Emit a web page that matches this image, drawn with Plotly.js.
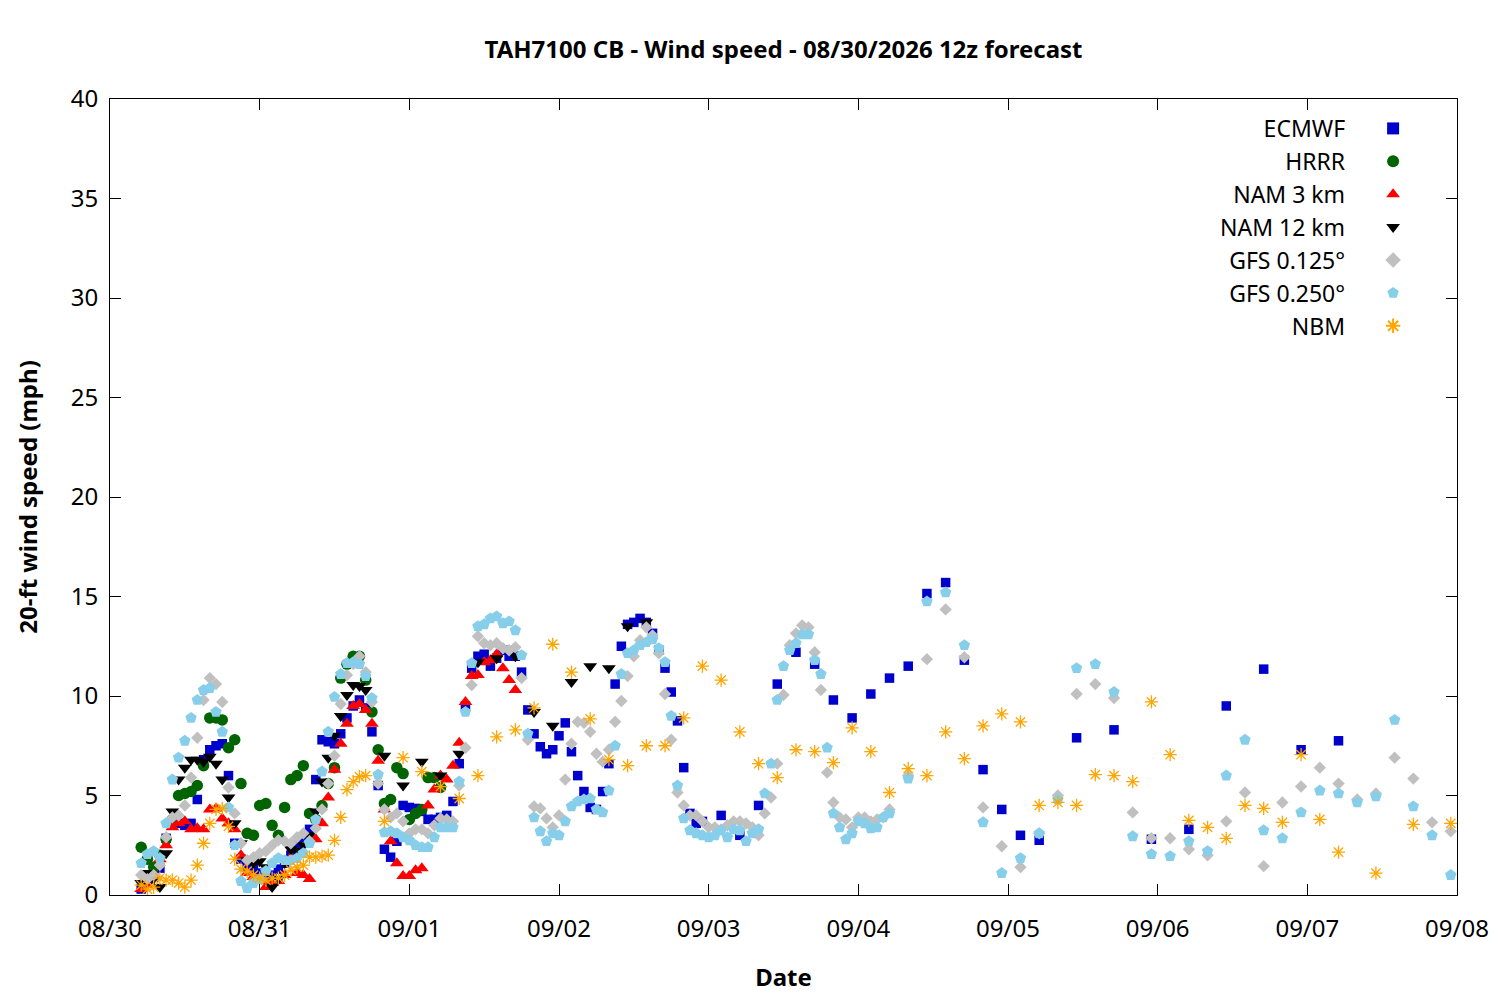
<!DOCTYPE html>
<html>
<head>
<meta charset="utf-8">
<title>TAH7100 CB - Wind speed</title>
<script src="https://cdn.plot.ly/plotly-3.0.1.min.js"></script>
<style>
  html, body { margin: 0; padding: 0; background: #ffffff; }
  #chart { width: 1500px; height: 1000px; }
</style>
</head>
<body>
<div id="chart"></div>
<script>
// hours after 08/30 00:00 local; each model has hourly, then 3-hourly / 6-hourly steps
const ecmwfHourly = [
  0.3, 0.6, 0.9, 1.35, 2.85, 3.6, 3.6, 3.5, 3.6, 4.8,
  6.8, 7.3, 7.5, 7.6, 6.0, 2.6, 1.8, 1.4, 1.35, 1.1,
  0.9, 1.0, 1.3, 1.6, 2.0, 2.5, 2.9, 3.3, 5.8, 7.8,
  7.7, 7.6, 8.1, 8.9, 9.5, 9.8, 9.4, 8.2, 5.5, 2.3,
  1.9, 2.7, 4.5, 4.4, 4.35, 4.2, 3.8, 3.8, 3.9, 4.0,
  4.7, 6.6, 9.5, 11.4, 12.0, 12.1, 11.5, 11.9, 12.3, 12.0,
  12.0, 11.2, 9.3, 8.1, 7.45, 7.1, 7.3, 8.0, 8.65, 7.2,
  6.0, 5.2, 4.4, 4.3, 5.2, 6.6, 10.6, 12.5, 13.6, 13.7,
  13.9, 13.7, 13.15, 12.3, 11.4, 10.2, 8.75, 6.4, 4.1, 3.6, 3.7,
];
const ecmwf3h = [4.0, 3.0, 4.5, 10.6, 12.2, 11.6, 9.8, 8.9, 10.1, 10.9, 11.5, 15.15, 15.7, 11.8, 6.3, 4.3, 3.0, 2.75];
const ecmwf6h = [7.9, 8.3, 2.8, 3.3, 9.5, 11.35, 7.3, 7.75];

const hrrrHourly = [
  2.4, 1.8, 1.4, 2.0, 2.8, 3.8, 5.0, 5.1, 5.2, 5.5,
  6.5, 8.9, 8.9, 8.8, 7.4, 7.8, 5.6, 3.1, 3.0, 4.5,
  4.6, 3.5, 3.0, 4.4, 5.8, 6.0, 6.5, 4.1, 3.8, 4.5,
  5.6, 6.4, 10.9, 11.6, 12.0, 12.0, 10.8, 9.2, 7.3, 4.6,
  4.8, 6.4, 6.1, 3.8, 4.1, 4.3, 5.9, 5.9, 5.4,
];

const nam3Hourly = [
  0.3, 0.5, 1.0, 1.8, 2.5, 3.4, 3.6, 3.7, 3.3, 3.35, 3.3,
  4.3, 4.35, 3.85, 3.6, 3.3, 2.0, 1.1, 0.9, 0.7, 0.4,
  0.6, 0.7, 1.0, 1.9, 1.1, 1.0, 0.8, 2.8, 3.6, 4.9,
  6.3, 7.6, 8.6, 9.5, 9.6, 9.3, 8.6, 6.75, 4.3, 2.7,
  1.6, 0.95, 0.95, 1.25, 1.35, 4.5, 5.3, 6.0, 5.8, 6.5,
  7.65, 9.7, 11.0, 11.05, 11.7, 11.8, 12.1, 11.4, 10.8, 10.3,
];

const nam12Hourly = [
  0.6, 1.1, 0.8, 0.4, 2.1, 4.2, 5.8, 6.4, 6.8, 6.8,
  6.7, 6.95, 6.6, 5.8, 4.9, 3.6, 2.6, 1.75, 1.6, 1.7,
  1.4, 0.4, 0.8, 1.6, 2.3, 2.2, 2.5, 3.0, 4.2, 5.7,
  6.9, 8.0, 9.0, 10.05, 10.55, 10.5, 10.3,
];
const nam12_3h = [7.0, 5.5, 6.7, 6.0, 7.1, 11.7, 11.9, 12.0, 9.2, 8.5, 10.7, 11.5, 11.4, 13.5, 13.7];

const gfs125Hourly = [
  1.0, 0.8, 1.0, 1.5, 2.9, 3.9, 4.0, 4.5, 5.9, 7.9,
  9.8, 10.9, 10.6, 9.7, 5.4, 4.1, 2.6, 1.75, 1.9, 2.1,
  2.2, 2.5, 2.75, 2.7, 2.6, 2.9, 3.1, 2.7, 3.35, 4.3,
  5.6, 7.0, 9.6, 11.05, 11.6, 12.0, 11.2, 9.7, 5.6, 4.3,
  3.9, 4.1, 3.7, 3.1, 3.3, 3.3, 3.1, 3.5, 3.85, 3.8,
  3.7, 5.5, 7.4, 10.55, 13.0, 12.65, 12.55, 12.65, 12.4, 12.3,
  12.45, 10.9, 7.8, 4.45, 4.35, 3.85, 3.4, 4.0, 5.8, 7.6,
  8.7, 8.65, 8.2, 7.1, 6.7, 7.3, 8.7, 9.75, 11.0, 12.0,
  12.8, 13.45, 13.05, 12.15, 10.1, 7.8, 5.15, 4.5, 4.0, 4.0,
  3.7, 3.4, 3.4, 3.3, 3.5, 3.7, 3.7, 3.6, 3.4, 3.0,
  4.1, 4.9, 6.6, 10.05, 12.55, 13.15, 13.55, 13.45, 12.2, 10.3,
  6.15, 4.65, 3.9, 3.8, 3.4, 3.9, 3.9, 3.7, 3.8, 3.9, 4.3,
];
const gfs125_3h = [
  6.0, 11.85, 14.35, 11.95, 4.4, 2.45, 1.4, 3.1, 5.0, 10.1,
  10.6, 9.9, 4.15, 2.85, 2.85, 2.3, 2.0, 3.7, 5.15, 1.45,
  4.65, 5.45, 6.4, 5.6, 4.8, 5.1, 6.9, 5.85, 3.65, 3.2,
];

const gfs250Hourly = [
  1.6, 2.05, 2.2, 1.85, 3.6, 5.8, 6.9, 7.75, 8.9, 9.8,
  10.3, 10.4, 9.2, 8.2, 4.4, 2.5, 0.7, 0.35, 0.6, 0.8,
  1.2, 1.6, 1.85, 1.75, 1.75, 1.85, 2.1, 2.6, 3.8, 6.2,
  8.2, 9.95, 11.1, 11.65, 11.7, 11.6, 11.0, 9.9, 6.05, 3.15,
  3.2, 3.1, 2.9, 2.75, 2.5, 2.4, 2.4, 2.9, 3.4, 3.4,
  3.4, 5.7, 9.2, 11.65, 13.5, 13.6, 13.9, 14.0, 13.65, 13.75,
  13.3, 12.05, 8.1, 3.9, 3.2, 2.7, 3.1, 3.0, 3.7, 4.45,
  4.7, 4.8, 4.85, 4.3, 4.15, 5.25, 7.5, 11.1, 12.15, 12.3,
  12.55, 12.7, 12.85, 12.4, 11.7, 9.0, 5.5, 3.85, 3.25, 3.1,
  3.0, 2.9, 3.0, 3.25, 2.9, 3.3, 3.25, 2.7, 3.1, 3.3,
  5.1, 6.6, 9.8, 11.5, 12.3, 12.65, 13.1, 13.1, 11.8, 11.1,
  7.4, 4.1, 3.4, 2.8, 3.1, 3.7, 3.6, 3.35, 3.4, 3.9, 4.1,
];
const gfs250_3h = [
  5.85, 14.75, 15.2, 12.55, 3.65, 1.1, 1.85, 3.1, 4.8, 11.4,
  11.6, 10.2, 2.95, 2.05, 1.95, 2.7, 2.2, 6.0, 7.8, 3.25,
  2.85, 4.15, 5.25, 5.1, 4.65, 4.95, 8.8, 4.45, 3.0, 1.0,
];

const nbmHourly = [
  0.5, 0.3, 0.4, 0.85, 0.75, 0.75, 0.6, 0.4, 0.75, 1.5,
  2.6, 3.6, 4.3, 4.35, 3.45, 1.8, 1.3, 1.2, 1.0, 0.85,
  0.75, 0.85, 0.85, 1.0, 1.25, 1.4, 1.5, 1.9, 1.9, 1.95,
  2.0, 2.75, 3.9, 5.3, 5.7, 5.95, 6.0,
];
const nbm3h = [
  3.7, 6.9, 6.2, 5.45, 4.85, 6.0, 7.95, 8.3, 9.4, 12.6,
  11.2, 8.85, 6.8, 6.5, 7.5, 7.5, 8.9, 11.5, 10.8, 8.2,
  6.6, 5.9, 7.3, 7.2, 6.65, 8.4, 7.2, 5.15, 6.35, 6.0,
  8.2, 6.85, 8.5, 9.1, 8.7, 4.5, 4.65, 4.5, 6.05, 6.0,
  5.7, 9.7, 7.05, 3.75, 3.4, 2.85, 4.5, 4.35, 3.65, 7.05,
  3.8, 2.15,
];
const nbm6h = [1.1, 3.55, 3.6];

const seriesNames = ["ECMWF", "HRRR", "NAM 3 km", "NAM 12 km", "GFS 0.125°", "GFS 0.250°", "NBM"];

// forecast segments: first valid hour and step in hours
const series = [
  { name: seriesNames[0], parts: [[5, 1, ecmwfHourly], [98, 3, ecmwf3h], [155, 6, ecmwf6h]],
    marker: { symbol: "square", color: "#0000cc", size: 9.5 } },
  { name: seriesNames[1], parts: [[5, 1, hrrrHourly]],
    marker: { symbol: "circle", color: "#006400", size: 11.5 } },
  { name: seriesNames[2], parts: [[5, 1, nam3Hourly]],
    marker: { symbol: "triangle-up", color: "#ff0000", size: 12 } },
  { name: seriesNames[3], parts: [[5, 1, nam12Hourly], [44, 3, nam12_3h]],
    marker: { symbol: "triangle-down", color: "#000000", size: 12 } },
  { name: seriesNames[4], parts: [[5, 1, gfs125Hourly], [128, 3, gfs125_3h]],
    marker: { symbol: "diamond", color: "#c0c0c0", size: 9.5 } },
  { name: seriesNames[5], parts: [[5, 1, gfs250Hourly], [128, 3, gfs250_3h]],
    marker: { symbol: "pentagon", color: "#87ceeb", size: 12 } },
  { name: seriesNames[6], parts: [[5, 1, nbmHourly], [44, 3, nbm3h], [203, 6, nbm6h]],
    marker: { symbol: "asterisk-open", color: "#ffa500", size: 11, line: { color: "#ffa500", width: 1.3 } } },
];

const FONT = "Noto Sans, Open Sans, DejaVu Sans, sans-serif";

function hourToDate(hour) {
  const d = new Date(Date.UTC(2026, 7, 30, hour));
  return d.toISOString().slice(0, 16).replace("T", " ");
}

function buildTrace(entry, index) {
  const x = [];
  const y = [];
  entry.parts.forEach(([start, step, values]) => {
    values.forEach((value, i) => {
      x.push(hourToDate(start + i * step));
      y.push(value);
    });
  });
  return {
    type: "scatter",
    mode: "markers",
    name: entry.name,
    legendgroup: "g" + index,
    x,
    y,
    marker: Object.assign({ line: { width: 0 } }, entry.marker),
    cliponaxis: true,
  };
}

const traces = series.map(buildTrace);

const axisCommon = {
  showline: true,
  linecolor: "#000000",
  linewidth: 1,
  mirror: "ticks",
  ticks: "inside",
  ticklen: 11,
  tickwidth: 1,
  tickcolor: "#000000",
  showgrid: false,
  zeroline: false,
  tickfont: { family: FONT, size: 24, color: "#000000" },
};

const layout = {
  width: 1500,
  height: 1000,
  margin: { l: 110, r: 43, t: 99, b: 105 },
  paper_bgcolor: "#ffffff",
  plot_bgcolor: "#ffffff",
  font: { family: FONT, color: "#000000" },
  title: {
    text: "<b>TAH7100 CB - Wind speed - 08/30/2026 12z forecast</b>",
    font: { family: FONT, size: 24, color: "#000000" },
    xref: "paper",
    x: 0.5,
    y: 0.95,
    yanchor: "middle",
  },
  xaxis: Object.assign({}, axisCommon, {
    type: "date",
    range: [hourToDate(0), hourToDate(216)],
    tick0: hourToDate(0),
    dtick: 86400000,
    tickformat: "%m/%d",
    ticklabelstandoff: 12,
    title: { text: "<b>Date</b>", font: { family: FONT, size: 24 }, standoff: 26 },
  }),
  yaxis: Object.assign({}, axisCommon, {
    range: [0, 40],
    tick0: 0,
    dtick: 5,
    ticklabelstandoff: 6,
    title: { text: "<b>20-ft wind speed (mph)</b>", font: { family: FONT, size: 24 }, standoff: 26 },
  }),
  showlegend: true,
  legend: {
    x: 0.951,
    xanchor: "right",
    y: 0.99,
    yanchor: "top",
    bgcolor: "rgba(0,0,0,0)",
    borderwidth: 0,
    tracegroupgap: 0,
    itemsizing: "constant",
    font: { family: FONT, size: 23, color: "#000000" },
  },
};

// gnuplot style key: text right-aligned, sample to the right of it
function moveLegendSymbols(gd) {
  const items = Array.from(gd.querySelectorAll(".legend .traces"));
  const widths = items.map((g) => g.querySelector(".legendtext").getComputedTextLength());
  const maxWidth = Math.max(...widths);
  items.forEach((g) => {
    const text = g.querySelector(".legendtext");
    text.setAttribute("text-anchor", "end");
    text.setAttribute("x", maxWidth);
    const layers = g.querySelector(".layers");
    if (layers) layers.setAttribute("transform", `translate(${maxWidth + 28},0)`);
  });
  const box = gd.querySelector(".legend .scrollbox");
  if (box) box.removeAttribute("clip-path");
}

Plotly.newPlot("chart", traces, layout, { staticPlot: true, displayModeBar: false })
  .then(moveLegendSymbols);
</script>
</body>
</html>
